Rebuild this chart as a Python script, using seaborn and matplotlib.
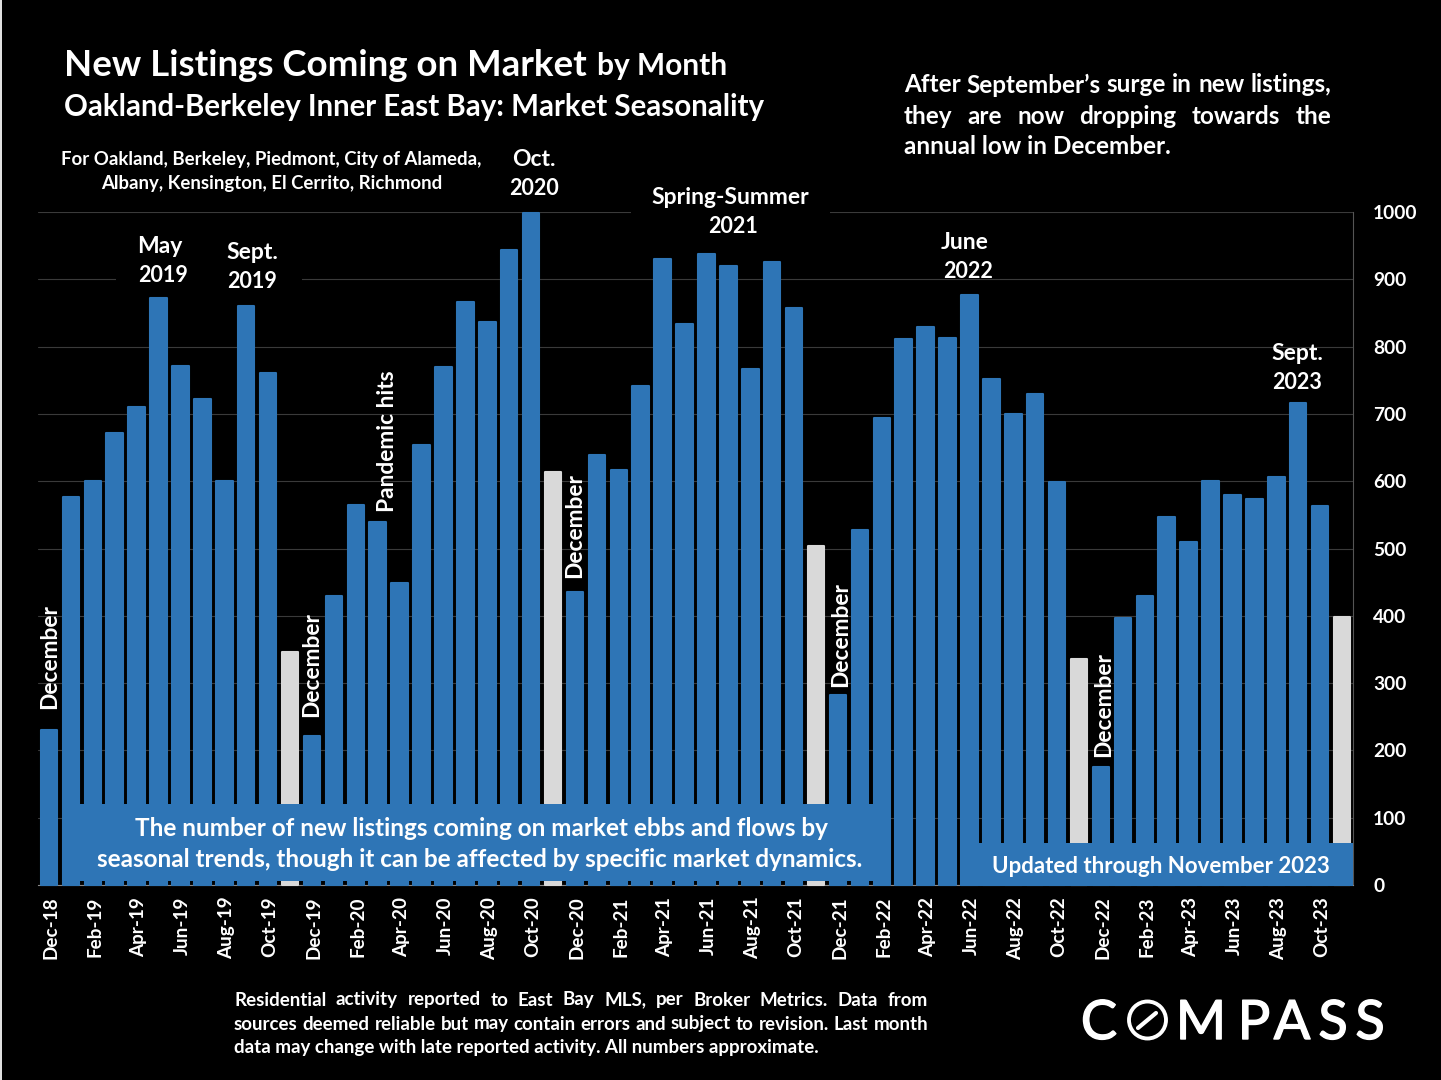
import matplotlib
matplotlib.use("Agg")
import matplotlib.pyplot as plt
from matplotlib.patches import Rectangle, Circle
from matplotlib.lines import Line2D
from matplotlib.transforms import ScaledTranslation
import matplotlib.patheffects as pe
import seaborn as sns
import pandas as pd

W, H = 1441, 1080
BLUE = "#2E75B6"
GREY = "#D9D9D9"

years_months = ["Dec-18","Jan-19","Feb-19","Mar-19","Apr-19","May-19","Jun-19","Jul-19","Aug-19","Sep-19","Oct-19","Nov-19",
                "Dec-19","Jan-20","Feb-20","Mar-20","Apr-20","May-20","Jun-20","Jul-20","Aug-20","Sep-20","Oct-20","Nov-20",
                "Dec-20","Jan-21","Feb-21","Mar-21","Apr-21","May-21","Jun-21","Jul-21","Aug-21","Sep-21","Oct-21","Nov-21",
                "Dec-21","Jan-22","Feb-22","Mar-22","Apr-22","May-22","Jun-22","Jul-22","Aug-22","Sep-22","Oct-22","Nov-22",
                "Dec-22","Jan-23","Feb-23","Mar-23","Apr-23","May-23","Jun-23","Jul-23","Aug-23","Sep-23","Oct-23","Nov-23"]
listings = [231,577,601,671,710,872,771,722,601,861,761,346,
            222,429,564,539,448,654,769,866,837,943,999,614,
            435,639,617,742,930,833,938,920,766,926,858,504,
            283,528,694,811,829,813,877,752,700,730,599,336,
            176,397,430,547,510,601,580,574,606,716,563,398]
y_ticks = [0,100,200,300,400,500,600,700,800,900,1000]

df = pd.DataFrame({"month": years_months, "listings": listings})
df["kind"] = ["nov" if m.startswith("Nov") else "other" for m in years_months]

sns.set_theme(style="dark")
plt.rcParams["font.family"] = ["Lato", "DejaVu Sans"]
plt.rcParams["font.weight"] = "bold"

fig = plt.figure(figsize=(W/100, H/100), dpi=100, facecolor="black")
ax = fig.add_axes([38/W, 1-885/H, (1353-38)/W, (885-212)/H], facecolor="black")
sns.barplot(data=df, x="month", y="listings", hue="kind", order=years_months,
            palette={"nov": GREY, "other": BLUE}, dodge=False, width=0.75,
            legend=False, saturation=1, ax=ax, zorder=3)
for p in ax.patches:
    p.set_edgecolor(p.get_facecolor())
    p.set_linewidth(1.5)
    p.set_joinstyle("round")
    p.set_clip_on(False)
ax.set_xlim(-0.5, 59.5)
ax.set_ylim(0, 1000)
ax.set_xlabel(""); ax.set_ylabel("")
ax.yaxis.tick_right()
ax.set_yticks(y_ticks)
ax.set_xticks(range(0, 60, 2))
ax.set_xticklabels(years_months[::2], rotation=90, color="white", fontsize=13.6, fontweight="bold")
ax.tick_params(axis="x", length=0, pad=8.4)
ax.tick_params(axis="y", length=0, pad=14.4, labelcolor="white", labelsize=13.8)
off = ScaledTranslation(2/100, 0, fig.dpi_scale_trans)
for lab in ax.get_xticklabels():
    lab.set_transform(lab.get_transform() + off)
ax.grid(axis="y", color="#3a3a3a", lw=0.8, zorder=0)
ax.grid(axis="x", visible=False)
for s in ["top", "left"]:
    ax.spines[s].set_visible(False)
ax.spines["bottom"].set_color("#8a8a8a"); ax.spines["bottom"].set_linewidth(0.8)
ax.spines["right"].set_color("#555555"); ax.spines["right"].set_linewidth(0.8)

def T(x, y, s, size, ha="center", va="center", rot=0, **kw):
    d = dict(color="white", fontsize=size, fontweight="bold", ha=ha, va=va, rotation=rot,
             transform=fig.transFigure, zorder=10)
    d.update(kw)
    return fig.text(x/W, 1-y/H, s, **d)

def justified(x0, x1, y, s, size):
    words = s.split(" ")
    arts = [T(x0, y, w, size, ha="left") for w in words]
    r = fig.canvas.get_renderer()
    widths = [a.get_window_extent(r).width for a in arts]
    gap = (x1 - x0 - sum(widths)) / (len(words) - 1)
    x = x0
    for a, w in zip(arts, widths):
        a.set_x(x / W)
        x += w + gap

def rect(x0, y0, x1, y1, color, z=6):
    fig.add_artist(Rectangle((x0/W, 1-y1/H), (x1-x0)/W, (y1-y0)/H, transform=fig.transFigure,
                             facecolor=color, edgecolor="none", zorder=z))

rect(0, 0, 2, H, "#E0E0E0")
rect(62, 804, 890, 881, BLUE)
rect(960, 843, 1353, 886, BLUE)
rect(631, 209, 830, 215, "black")
rect(116, 276, 302, 282, "black")

T(64, 65, "New Listings Coming on Market", 26.4, ha="left")
T(597, 66, "by Month", 21.5, ha="left")
T(64, 107, "Oakland-Berkeley Inner East Bay: Market Seasonality", 21.25, ha="left")
T(271, 159.5, "For Oakland, Berkeley, Piedmont, City of Alameda,", 13.4)
T(272, 183.5, "Albany, Kensington, El Cerrito, Richmond", 13.4)

justified(904, 1331, 85, "After September\u2019s surge in new listings,", 17.5)
justified(904, 1331, 116, "they are now dropping towards the", 17.5)
T(904, 147, "annual low in December.", 17.5, ha="left")

for x, y, s, size in [(534, 159.5, "Oct.", 16.5), (534, 188.5, "2020", 15.5),
                      (730, 197.5, "Spring-Summer", 16.5), (733, 226.5, "2021", 15.5),
                      (160, 246.5, "May", 16.5), (163, 275.5, "2019", 15.5),
                      (252, 252.5, "Sept.", 16.5), (252, 281.5, "2019", 15.5),
                      (965, 242.5, "June", 16.5), (968, 271.5, "2022", 15.5),
                      (1297, 353.5, "Sept.", 16.5), (1297, 382.5, "2023", 15.5)]:
    T(x, y, s, size)

for x, y in [(50, 657), (312, 665), (575, 526), (841, 635), (1104, 705)]:
    T(x, y, "December", 16.4, rot=90)
T(388, 441, "Pandemic hits", 16.4, rot=90)

T(481, 828.5, "The number of new listings coming on market ebbs and flows by", 17.5)
T(480, 859.5, "seasonal trends, though it can be affected by specific market dynamics.", 17.45)
T(1161, 866.5, "Updated through November 2023", 16)

justified(234, 928, 1000, "Residential activity reported to East Bay MLS, per Broker Metrics. Data from", 13.5)
justified(234, 928, 1024, "sources deemed reliable but may contain errors and subject to revision. Last month", 13.5)
T(234, 1048, "data may change with late reported activity. All numbers approximate.", 13.5, ha="left")

# logo wordmark
stroke = [pe.withStroke(linewidth=1.0, foreground="white")]
for x, ch in zip([1099, 1201, 1254, 1292, 1333, 1370], ["C", "M", "P", "A", "S", "S"]):
    T(x, 1039, ch, 39, va="baseline", fontweight="normal", path_effects=stroke)
fig.add_artist(Circle((1147.5, H-1020), 18.5, transform=None, fill=False, edgecolor="white", lw=2.8, zorder=10))
fig.add_artist(Line2D([1138/W, 1156/W], [1-1028/H, 1-1013/H], transform=fig.transFigure, color="white", lw=3, zorder=10))

fig.savefig("out.png", dpi=100, facecolor="black")
